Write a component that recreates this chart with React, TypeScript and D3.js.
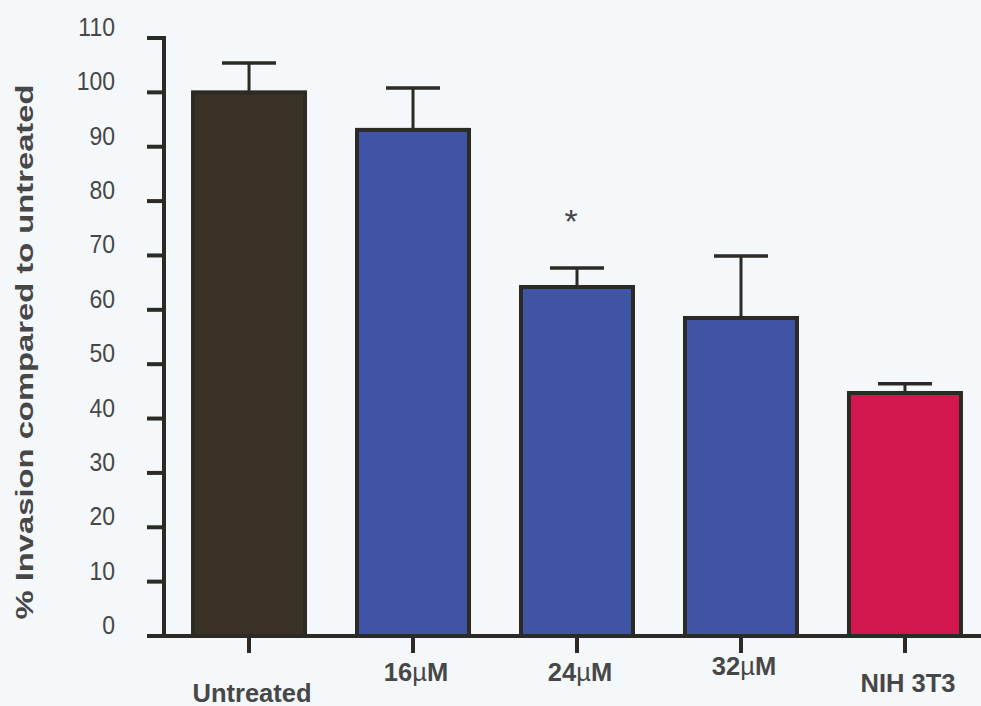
import React from 'react';
import * as d3 from 'd3';

// values
const categories = ['Untreated', '16µM', '24µM', '32µM', 'NIH 3T3'];
const invasion = [100, 93.1, 64.2, 58.5, 44.7];
const sem = [5.4, 7.7, 3.5, 11.4, 1.7];
const yTicks = [0, 10, 20, 30, 40, 50, 60, 70, 80, 90, 100, 110];
const significant = [false, false, true, false, false];

const barColors = ['#3a3126', '#3f54a4', '#3f54a4', '#3f54a4', '#d4164f'];
// labels in the scan sit at slightly different heights
const labelDy = [66, 45, 45, 39, 56];

const W = 981;
const H = 706;
const axisX = 164;
const baseY = 636;

const App = () => {
  const y = d3.scaleLinear().domain([0, 110]).range([baseY, 38]);
  const x = d3
    .scaleBand()
    .domain(categories)
    .range([axisX, 990])
    .paddingInner(0.317)
    .paddingOuter(0.177);
  const bw = x.bandwidth();
  const ink = '#2b2a25';
  const txt = '#474747';

  return (
    <svg
      width={W}
      height={H}
      style={{ position: 'absolute', left: 0, top: 0 }}
      fontFamily="Liberation Sans, Arial, sans-serif"
    >
      <rect width={W} height={H} fill="#f5f8fa" />

      {/* bars */}
      {categories.map((c, i) => {
        const x0 = x(c);
        const cx = x0 + bw / 2;
        const top = y(invasion[i]);
        const errTop = y(invasion[i] + sem[i]);
        return (
          <g key={c}>
            <line x1={cx} x2={cx} y1={top} y2={errTop} stroke={ink} strokeWidth={3} />
            <line x1={cx - 27} x2={cx + 27} y1={errTop} y2={errTop} stroke={ink} strokeWidth={3.5} />
            <rect
              x={x0}
              y={top}
              width={bw}
              height={baseY - top}
              fill={barColors[i]}
              stroke={ink}
              strokeWidth={4}
            />
            {significant[i] && (
              <text x={cx - 6} y={errTop - 35} fontSize={34} fill={txt} textAnchor="middle">
                *
              </text>
            )}
            <line x1={cx} x2={cx} y1={baseY} y2={baseY + 17} stroke={ink} strokeWidth={4} />
            <text
              x={cx + 3}
              y={baseY + labelDy[i]}
              fontSize={25.5}
              fontWeight="bold"
              fill={txt}
              textAnchor="middle"
            >
              {c.includes('µ') ? (
                <>
                  {c.split('µ')[0]}
                  <tspan fontWeight="normal">µ</tspan>
                  {c.split('µ')[1]}
                </>
              ) : (
                c
              )}
            </text>
          </g>
        );
      })}

      {/* axes */}
      <line x1={axisX} x2={axisX} y1={y(110) - 2} y2={baseY + 2} stroke={ink} strokeWidth={4} />
      <line x1={152} x2={W} y1={baseY} y2={baseY} stroke={ink} strokeWidth={4} />
      {yTicks.map(t => (
        <g key={t}>
          <line x1={axisX - 17} x2={axisX} y1={y(t)} y2={y(t)} stroke={ink} strokeWidth={4} />
          <text
            x={115}
            y={y(t) - 2}
            fontSize={23}
            fill={txt}
            textAnchor="end"
            transform={`translate(0 ${y(t) - 2}) scale(1 1.12) translate(0 ${-(y(t) - 2)})`}
          >
            {t}
          </text>
        </g>
      ))}

      <text
        transform="translate(33 352) rotate(-90)"
        fontSize={23}
        fontWeight="bold"
        fill={txt}
        textAnchor="middle"
        textLength={535}
        lengthAdjust="spacingAndGlyphs"
      >
        % Invasion compared to untreated
      </text>
    </svg>
  );
};

export default App;
